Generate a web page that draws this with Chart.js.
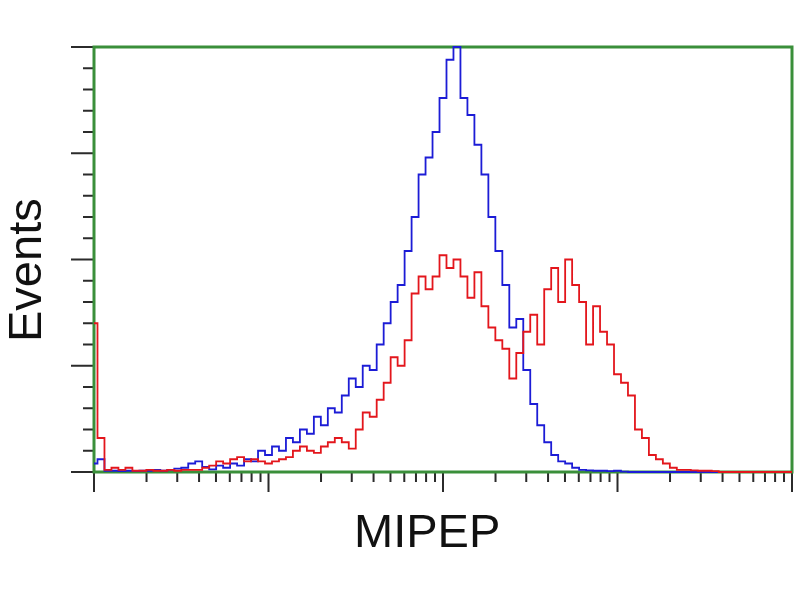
<!DOCTYPE html>
<html>
<head>
<meta charset="utf-8">
<script src="https://cdn.jsdelivr.net/npm/chart.js@4.4.1/dist/chart.umd.min.js"></script>
<style>
    html, body { margin: 0; padding: 0; background: #fff; }
    #wrap { position: relative; width: 800px; height: 600px; }
    .lbl { position: absolute; font-family: "Liberation Sans", Arial, sans-serif; font-size: 47px; line-height: 47px; color: #111; white-space: nowrap; }
    #xTitle { left: 354px; top: 507px; }
    #yTitle { left: 1px; top: 342px; transform-origin: 0 0; transform: rotate(-90deg); }
</style>
</head>
<body>
<div id="wrap">
    <canvas id="chartHist" width="800" height="600"></canvas>
    <div class="lbl" id="xTitle">MIPEP</div>
    <div class="lbl" id="yTitle">Events</div>
</div>
<script>
// ============ DATA ============
// bin centres, in decades of the log axis (0 = 10^0 ... 4 = 10^4)
const BINS = [
    0.00,0.04,0.08,0.12,0.16,0.20,0.24,0.28,0.32,0.36,
    0.40,0.44,0.48,0.52,0.56,0.60,0.64,0.68,0.72,0.76,
    0.80,0.84,0.88,0.92,0.96,1.00,1.04,1.08,1.12,1.16,
    1.20,1.24,1.28,1.32,1.36,1.40,1.44,1.48,1.52,1.56,
    1.60,1.64,1.68,1.72,1.76,1.80,1.84,1.88,1.92,1.96,
    2.00,2.04,2.08,2.12,2.16,2.20,2.24,2.28,2.32,2.36,
    2.40,2.44,2.48,2.52,2.56,2.60,2.64,2.68,2.72,2.76,
    2.80,2.84,2.88,2.92,2.96,3.00,3.04,3.08,3.12,3.16,
    3.20,3.24,3.28,3.32,3.36,3.40,3.44,3.48,3.52,3.56,
    3.60,3.64,3.68,3.72,3.76,3.80,3.84,3.88,3.92,3.96,
    4.00
];

// control (blue)
const EVENTS_CONTROL = [
    2,3,0.3,0.3,0.2,0.3,0.2,0.3,0.3,0.5,
    0.3,0.5,0.8,1,2,2.5,1.2,0.6,1.5,1,
    2,1.5,3,2.5,5,4,6,5,8,7,
    10,9,13,11,15,14,18,22,20,25,
    24,30,35,40,44,52,60,70,74,80,
    88,97,100,88,84,77,70,60,52,44,
    34,36,24,16,11,7,4,2.5,2,1,
    0.5,0.4,0.3,0.3,0.2,0.3,0.1,0,0,0,
    0,0,0,0,0,0,0,0,0,0,
    0,0,0,0,0,0,0,0,0,0,
    0
];

// MIPEP stained (red)
const EVENTS_MIPEP = [
    35,8,0.5,1,0.5,1,0.3,0.3,0.5,0.3,
    0.3,0.5,0.3,0.5,0.5,0.5,1,1.5,2.5,2,
    3,3.5,2.5,3,2.5,2,2.5,3,3.5,5,
    6,5,4.5,6,7,8,7,5.5,10,14,
    13,17,21,27,25,31,42,46,43,46,
    51,48,50,46,41,47,39,34,31,29,
    22,28,33,37,30,43,48,40,50,44,
    40,30,39,33,30,23,21,18,10,8,
    4,3,2,1,0.5,0.5,0.4,0.3,0.3,0.2,
    0,0,0,0,0,0,0,0,0,0,
    0
];

// axis ticks
const X_DECADES = [0, 1, 2, 3, 4];
const X_MINOR_MULT = [2, 3, 4, 5, 6, 7, 8, 9];
const Y_MAJOR = [0, 25, 50, 75, 100];
const Y_MINOR_STEP = 5;

const FRAME_COLOR = '#3a8f3a';
const TICK_COLOR = '#2b2b2b';

// ============ FRAME + TICKS ============
const framePlugin = {
    id: 'frameTicks',
    beforeDatasetsDraw(chart) {
        const { ctx, chartArea: a, scales } = chart;
        const xs = scales.x, ys = scales.y;
        ctx.save();

        // ticks
        ctx.strokeStyle = TICK_COLOR;
        ctx.lineWidth = 2;
        ctx.beginPath();
        X_DECADES.forEach(d => {
            const px = xs.getPixelForValue(d);
            ctx.moveTo(px, a.bottom); ctx.lineTo(px, a.bottom + 20);
            if (d < 4) {
                X_MINOR_MULT.forEach(m => {
                    const mx = xs.getPixelForValue(d + Math.log10(m));
                    ctx.moveTo(mx, a.bottom); ctx.lineTo(mx, a.bottom + 10);
                });
            }
        });
        for (let v = 0; v <= 100; v += Y_MINOR_STEP) {
            const py = ys.getPixelForValue(v);
            const len = Y_MAJOR.includes(v) ? 23 : 11;
            ctx.moveTo(a.left, py); ctx.lineTo(a.left - len, py);
        }
        ctx.stroke();

        // green frame
        ctx.strokeStyle = FRAME_COLOR;
        ctx.lineWidth = 3;
        ctx.strokeRect(a.left, a.top, a.right - a.left, a.bottom - a.top);
        ctx.restore();
    }
};

function toPoints(vals) {
    return BINS.map((b, i) => ({ x: b, y: vals[i] }));
}

new Chart(document.getElementById('chartHist'), {
    type: 'line',
    data: {
        datasets: [{
            label: 'MIPEP',
            data: toPoints(EVENTS_MIPEP),
            borderColor: '#e3161c',
            borderWidth: 1.8,
            pointRadius: 0,
            stepped: 'middle',
            fill: false,
            clip: false
        }, {
            label: 'Control',
            data: toPoints(EVENTS_CONTROL),
            borderColor: '#1c1cd6',
            borderWidth: 1.8,
            pointRadius: 0,
            stepped: 'middle',
            fill: false,
            clip: false
        }]
    },
    options: {
        responsive: false,
        animation: false,
        layout: { padding: { left: 94, right: 8, top: 47, bottom: 128 } },
        plugins: { legend: { display: false }, tooltip: { enabled: false } },
        scales: {
            x: { type: 'linear', min: 0, max: 4, display: false },
            y: { min: 0, max: 100, display: false }
        }
    },
    plugins: [framePlugin]
});
</script>
</body>
</html>
